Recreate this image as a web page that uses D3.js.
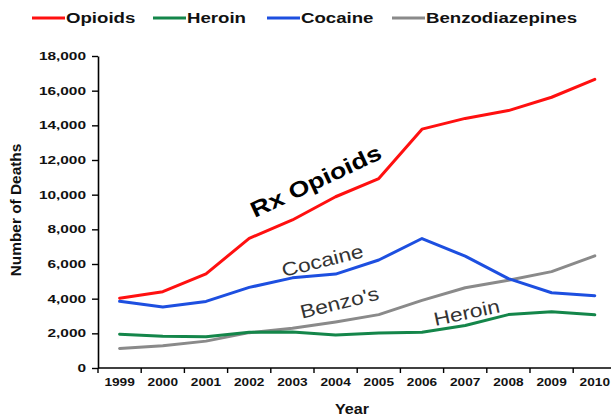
<!DOCTYPE html>
<html><head><meta charset="utf-8">
<script src="https://cdn.jsdelivr.net/npm/d3@7"></script>
<style>body{margin:0;background:#fff;} svg{display:block;font-family:"Liberation Sans",Arial,sans-serif;}</style>
</head><body>
<svg id="c" width="611" height="418"></svg>
<script>
const years = ["1999","2000","2001","2002","2003","2004","2005","2006","2007","2008","2009","2010"];
const opioids = [4030,4400,5430,7480,8540,9880,10930,13780,14400,14850,15620,16650];
const heroin = [1950,1830,1800,2060,2070,1900,2020,2060,2450,3080,3250,3070];
const cocaine = [3850,3520,3840,4650,5200,5420,6230,7470,6450,5160,4340,4170];
const benzos = [1130,1290,1550,2040,2290,2660,3080,3900,4630,5060,5560,6470];
const seriesNames = ["Opioids","Heroin","Cocaine","Benzodiazepines"];
const seriesColors = ["#ff1010","#14864a","#1d4fe0","#8a8a8a"];
const yTicks = [0,2000,4000,6000,8000,10000,12000,14000,16000,18000];

const svg = d3.select("#c");
const STRETCH = 1.35;
function stretch(sel, f){ sel.each(function(){ const w=this.getComputedTextLength(); d3.select(this).attr("textLength", w*(f||STRETCH)).attr("lengthAdjust","spacingAndGlyphs"); }); }

const x0 = 98, step = 43.2;
const x = d3.scaleBand().domain(years).range([x0, x0 + step*years.length]).paddingInner(0).paddingOuter(0);
const cx = d => x(d) + x.bandwidth()/2;
const y = d3.scaleLinear().domain([0,18000]).range([368,56]);

// Y axis
const yAxis = svg.append("g").attr("transform",`translate(${x0},0)`)
  .call(d3.axisLeft(y).tickValues(yTicks).tickFormat(d3.format(",")).tickSize(6).tickSizeOuter(0));
yAxis.select(".domain").attr("stroke","#000").attr("stroke-width",1.6);
yAxis.selectAll(".tick line").attr("stroke","#000").attr("stroke-width",1.4);
yAxis.selectAll(".tick text").attr("x",-12).attr("font-size",11).attr("font-weight","bold").attr("fill","#111").attr("font-family","Liberation Sans, Arial, sans-serif");
stretch(yAxis.selectAll(".tick text"), 1.4);

// X axis
const xa = svg.append("g");
xa.append("line").attr("x1",x0).attr("x2",611).attr("y1",y(0)).attr("y2",y(0)).attr("stroke","#000").attr("stroke-width",1.6);
xa.selectAll("line.t").data(years.slice(1)).join("line").attr("class","t")
  .attr("x1",d=>x(d)).attr("x2",d=>x(d)).attr("y1",y(0)).attr("y2",y(0)+5).attr("stroke","#000").attr("stroke-width",1.4);
xa.append("line").attr("x1",x0).attr("x2",x0).attr("y1",y(0)).attr("y2",y(0)+5).attr("stroke","#000").attr("stroke-width",1.4);
const xl = xa.selectAll("text").data(years).join("text")
  .attr("x",d=>cx(d)).attr("y",y(0)+18).attr("text-anchor","middle")
  .attr("font-size",10.5).attr("font-weight","bold").attr("fill","#111").text(d=>d);
stretch(xl, 1.3);

// axis titles
const yt = svg.append("text").attr("transform","translate(21,210) rotate(-90)").attr("text-anchor","middle")
  .attr("font-size",14).attr("font-weight","bold").attr("fill","#111").text("Number of Deaths");
stretch(yt, 1.1);
const xt = svg.append("text").attr("x",352).attr("y",414).attr("text-anchor","middle")
  .attr("font-size",14).attr("font-weight","bold").attr("fill","#111").text("Year");
stretch(xt, 1.15);

// lines
const allSeries = [opioids, heroin, cocaine, benzos];
const line = d3.line().x((d,i)=>cx(years[i])).y(d=>y(d));
const drawOrder = [3,1,2,0];
drawOrder.forEach(k=>{
  svg.append("path").datum(allSeries[k]).attr("d",line).attr("fill","none")
    .attr("stroke",seriesColors[k]).attr("stroke-width",3).attr("stroke-linejoin","round").attr("stroke-linecap","round");
});

// legend
const legendX = [32,153,267,392];
const lg = svg.append("g");
seriesNames.forEach((n,i)=>{
  lg.append("line").attr("x1",legendX[i]).attr("x2",legendX[i]+33).attr("y1",18).attr("y2",18)
    .attr("stroke",seriesColors[i]).attr("stroke-width",3);
  const t = lg.append("text").attr("x",legendX[i]+34).attr("y",23).attr("font-size",14).attr("font-weight","bold").attr("fill","#111").text(n);
  stretch(t, 1.33);
});

// annotations
function ann(txt, px, py, ang, size, weight, color, f){
  const t = svg.append("text").attr("transform",`translate(${px},${py}) rotate(${ang})`).attr("text-anchor","middle")
    .attr("font-size",size).attr("font-weight",weight).attr("fill",color).text(txt);
  stretch(t, f);
}
ann("Rx Opioids", 319, 188, -25, 22, "bold", "#000", 1.22);
ann("Cocaine", 324, 267, -14, 19, "normal", "#333", 1.2);
ann("Benzo's", 341, 309, -14, 19, "normal", "#333", 1.2);
ann("Heroin", 468, 319, -12, 19, "normal", "#333", 1.2);
</script>
</body></html>
